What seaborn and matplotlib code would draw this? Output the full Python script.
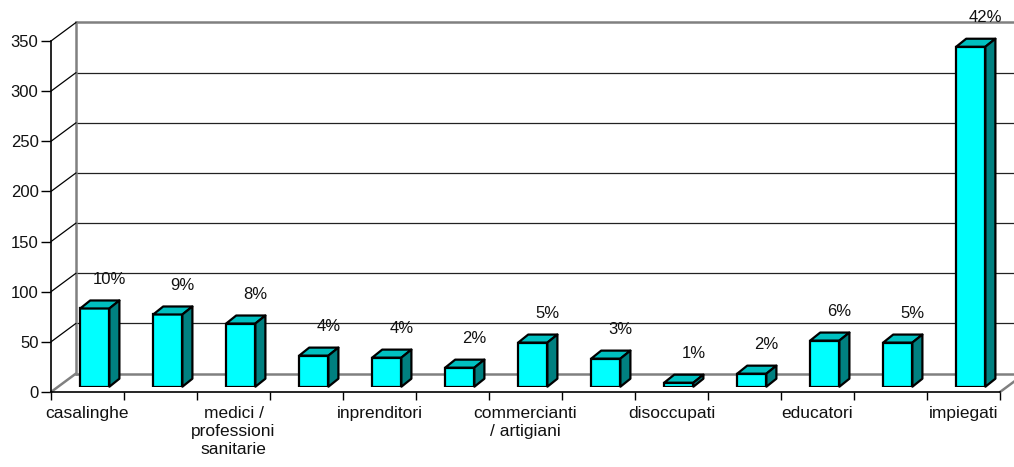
import numpy as np
import matplotlib
matplotlib.use("Agg")
import matplotlib.pyplot as plt
from matplotlib.patches import Polygon
import seaborn as sns

# ---- data ----
tick_labels = ["casalinghe", "", "medici /\nprofessioni\nsanitarie", "", "inprenditori", "",
               "commercianti\n/ artigiani", "", "disoccupati", "", "educatori", "", "impiegati"]
values = [78, 72, 63, 31, 29, 19, 44, 28, 4, 13, 46, 44, 339]
pct_labels = ["10%", "9%", "8%", "4%", "4%", "2%", "5%", "3%", "1%", "2%", "6%", "5%", "42%"]
y_ticks = [0, 50, 100, 150, 200, 250, 300, 350]

sns.set_theme(style="white")
plt.rcParams["font.family"] = ["Liberation Sans", "DejaVu Sans"]

W, H = 1014, 467
fig = plt.figure(figsize=(W / 100, H / 100), dpi=100)


def rect(left_px, bottom_px, w_px, h_px):
    return [left_px / W, (H - bottom_px) / H, w_px / W, h_px / H]


n = len(values)
xlim = (-0.5, n - 0.5)
ylim = (0, 350)
cat_px = 949 / n
# depth offsets (pixels)
wall_dx, wall_dy = 25, 18.5
bar_dx, bar_dy = 7.3, 5.3

# back wall
back = fig.add_axes(rect(51 + wall_dx, 392 - wall_dy, 949, 351))
back.set_xlim(xlim)
back.set_ylim(ylim)
back.patch.set_alpha(0)
for s in back.spines.values():
    s.set_visible(False)
back.spines["left"].set_visible(True)
back.spines["left"].set_color("#808080")
back.spines["left"].set_linewidth(1.8)
back.set_xticks([])
back.set_yticks([])
for v in y_ticks:
    if v in (0, 350):
        back.axhline(v, color="#808080", lw=1.8, clip_on=False)
    else:
        back.axhline(v, color="#222222", lw=0.9, clip_on=False)

# bars plane
bar_ax = fig.add_axes(rect(51 + bar_dx, 392 - bar_dy, 949, 351))
bar_ax.patch.set_alpha(0)
positions = np.arange(n)
sns.barplot(x=positions, y=values, ax=bar_ax, color="#00FFFF", saturation=1,
            edgecolor="black", linewidth=1.6, width=0.4, zorder=3)
bar_ax.set_xlim(xlim)
bar_ax.set_ylim(ylim)
bar_ax.axis("off")

ddx = 10 / cat_px
ddy = 8 / (351 / 350)
for p, lab in zip(list(bar_ax.patches), pct_labels):
    x0 = p.get_x()
    x1 = x0 + p.get_width()
    h = p.get_height()
    top = Polygon([(x0, h), (x1, h), (x1 + ddx, h + ddy), (x0 + ddx, h + ddy)],
                  closed=True, facecolor="#00C0C0", edgecolor="black", lw=1.6,
                  zorder=3, clip_on=False, joinstyle="round")
    side = Polygon([(x1, 0), (x1 + ddx, ddy), (x1 + ddx, h + ddy), (x1, h)],
                   closed=True, facecolor="#008080", edgecolor="black", lw=1.6,
                   zorder=3, clip_on=False, joinstyle="round")
    bar_ax.add_patch(top)
    bar_ax.add_patch(side)
    bar_ax.text((x0 + x1) / 2 + 0.2, h + 29, lab, ha="center", va="center",
                fontsize=12, color="#111111", clip_on=False)

# front axes (axis lines, ticks, labels)
front = fig.add_axes(rect(51, 392, 949, 351))
front.patch.set_alpha(0)
front.set_xlim(xlim)
front.set_ylim(ylim)
for s in ("top", "right"):
    front.spines[s].set_visible(False)
for s in ("left", "bottom"):
    front.spines[s].set_color("black")
    front.spines[s].set_linewidth(1.2)
front.set_yticks(y_ticks)
front.set_yticklabels([str(v) for v in y_ticks], fontsize=12, color="#111111")
front.tick_params(axis="y", direction="out", length=7, width=1, color="black", pad=2, left=True)
front.set_xticks(positions)
front.set_xticklabels(tick_labels, fontsize=12.5, color="#111111", linespacing=1.25, va="top")
front.set_xticks(np.arange(-0.5, n, 1.0), minor=True)
front.tick_params(axis="x", which="major", length=0, pad=10, bottom=True)
front.tick_params(axis="x", which="minor", length=6, width=1, color="black", bottom=True)

# left wall diagonals and floor edges
wdx = wall_dx / cat_px
wdy = wall_dy / (351 / 350)
for v in y_ticks:
    col, lw = ("#808080", 1.8) if v == 0 else ("black", 0.9)
    front.plot([-0.5, -0.5 + wdx], [v, v + wdy], color=col, lw=lw, clip_on=False)
front.plot([n - 0.5, n - 0.5 + wdx], [0, wdy], color="#808080", lw=1.8, clip_on=False)

fig.savefig("out.png", dpi=100)
